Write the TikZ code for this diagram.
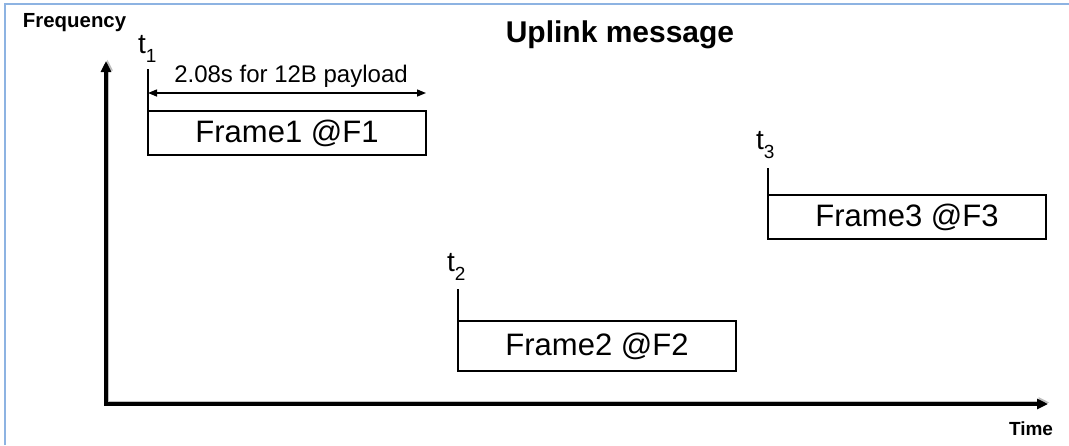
\documentclass[tikz,border=0pt]{standalone}
\usepackage{fontspec}
\setmainfont{Liberation Sans}
\usetikzlibrary{arrows.meta}
\definecolor{framecol}{HTML}{8DB3E2}
\newcommand{\tsub}[1]{t\raisebox{-9pt}{\fontsize{19}{21}\selectfont #1}}
\tikzset{
  every node/.style={inner sep=0pt, outer sep=0pt},
  axis/.style={line width=3.2pt, -{Triangle[length=11pt,width=10pt]}},
  axisshadow/.style={line width=3.2pt, black!25, -{Triangle[length=11pt,width=10pt]}},
  framebox/.style={draw, line width=1.4pt, minimum width=278pt, anchor=north west, font=\fontsize{31}{33}\selectfont},
  startmark/.style={line width=2.8pt},
  tlabel/.style={font=\fontsize{28}{30}\selectfont, anchor=base west},
  span/.style={line width=1.4pt, {Triangle[length=9pt,width=7pt]}-{Triangle[length=9pt,width=7pt]}}
}
\begin{document}
\begin{tikzpicture}[x=1pt,y=-1pt]
\useasboundingbox (0,0) rectangle (1069,445);
% outer frame edges
\draw[framecol, line width=1.2pt] (5,445) -- (5,4) -- (1069,4);

% axes, with a faint drop shadow
\coordinate (origin) at (106,404);
\coordinate (ytip) at (106,61);
\coordinate (xtip) at (1048,404);
\draw[axisshadow] ([shift={(1.5pt,1.5pt)}]origin) -- ([shift={(1.5pt,1.5pt)}]xtip);
\draw[axisshadow] ([shift={(1.5pt,1.5pt)}]origin) -- ([shift={(1.5pt,1.5pt)}]ytip);
\draw[axis] (origin) -- (ytip);
\draw[axis] ([xshift=-1.6pt]origin) -- (xtip);
\node[font=\bfseries\fontsize{20.4}{22}\selectfont, anchor=base west] (freq) at (23,27) {Frequency};
\node[font=\bfseries\fontsize{19}{21}\selectfont, anchor=base] (time) at (1031,435) {Time};
\node[font=\bfseries\fontsize{30}{32}\selectfont, anchor=base] (title) at (620,42) {Uplink message};

% frame 1
\node[framebox, minimum height=44pt] (f1) at (148,111) {Frame1 @F1};
\coordinate (m1top) at (148,69);
\coordinate (m1bot) at (148,128);
\draw[startmark] (m1top) -- (m1bot);
\node[tlabel] (t1) at (138,53) {\tsub{1}};
\coordinate (s1a) at (148,93);
\coordinate (s1b) at (426,93);
\draw[span] (s1a) -- (s1b);
\node[font=\fontsize{24}{26}\selectfont, anchor=base] (dur) at (291,82) {2.08s for 12B payload};

% frame 2
\node[framebox, minimum height=50pt] (f2) at (458,321) {Frame2 @F2};
\coordinate (m2top) at (458,289);
\coordinate (m2bot) at (458,347);
\draw[startmark] (m2top) -- (m2bot);
\node[tlabel] (t2) at (447,271) {\tsub{2}};

% frame 3
\node[framebox, minimum height=44pt] (f3) at (768,195) {Frame3 @F3};
\coordinate (m3top) at (768,168);
\coordinate (m3bot) at (768,226);
\draw[startmark] (m3top) -- (m3bot);
\node[tlabel] (t3) at (756,149) {\tsub{3}};
\end{tikzpicture}
\end{document}
